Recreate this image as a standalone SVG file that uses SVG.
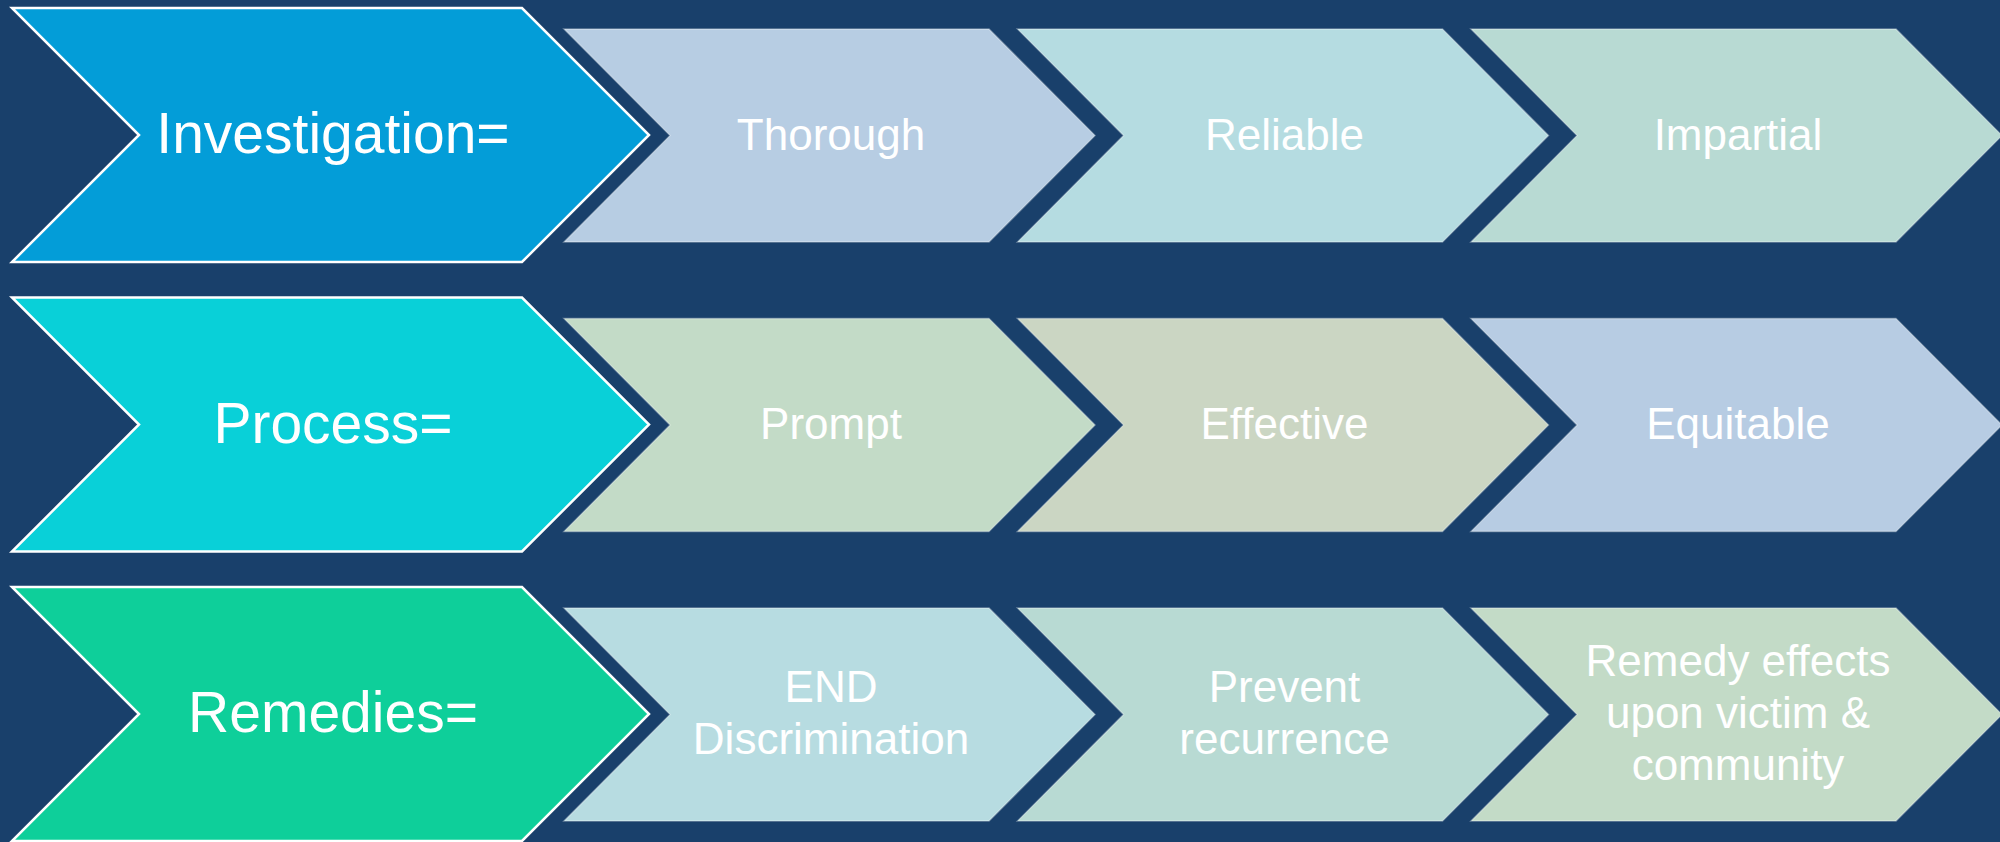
<svg xmlns="http://www.w3.org/2000/svg" width="2000" height="842" viewBox="0 0 2000 842">
  <defs>
    <!-- large chevron, centred vertically on y=0 -->
    <path id="bigChevron" d="M12,-127 L522,-127 L649,0 L522,127 L12,127 L139,0 Z"/>
    <!-- small chevron, left edge at x=0, centred vertically on y=0 -->
    <path id="smallChevron" d="M0,-106.5 L425,-106.5 L531,0 L425,106.5 L0,106.5 L106,0 Z"/>
  </defs>
  <style>
    .bg { fill: #19406b; }
    .big { stroke: #ffffff; stroke-width: 2.5; stroke-linejoin: miter; }
    .small { stroke: #ffffff; stroke-opacity: 0.35; stroke-width: 1.5; }
    .label { font-family: "Liberation Sans", Arial, sans-serif; fill: #ffffff; text-anchor: middle; }
    .bigLabel { font-size: 57px; }
    .smallLabel { font-size: 44px; }
  </style>

  <rect class="bg" x="0" y="0" width="2000" height="842"/>

  <!-- Row 1: Investigation -->
  <g id="investigation" transform="translate(0,135)">
    <use href="#bigChevron" class="big" fill="#039dd8"/>
    <text class="label bigLabel" x="333" y="18">Investigation=</text>
  </g>
  <g id="thorough" transform="translate(564,135.5)">
    <use href="#smallChevron" class="small" fill="#b7cde3"/>
    <text class="label smallLabel" x="267" y="14">Thorough</text>
  </g>
  <g id="reliable" transform="translate(1017.5,135.5)">
    <use href="#smallChevron" class="small" fill="#b5dce1"/>
    <text class="label smallLabel" x="267" y="14">Reliable</text>
  </g>
  <g id="impartial" transform="translate(1471,135.5)">
    <use href="#smallChevron" class="small" fill="#b8dad3"/>
    <text class="label smallLabel" x="267" y="14">Impartial</text>
  </g>

  <!-- Row 2: Process -->
  <g id="process" transform="translate(0,424.5)">
    <use href="#bigChevron" class="big" fill="#09d0d8"/>
    <text class="label bigLabel" x="333" y="18">Process=</text>
  </g>
  <g id="prompt" transform="translate(564,425)">
    <use href="#smallChevron" class="small" fill="#c3dbc7"/>
    <text class="label smallLabel" x="267" y="14">Prompt</text>
  </g>
  <g id="effective" transform="translate(1017.5,425)">
    <use href="#smallChevron" class="small" fill="#cbd6c3"/>
    <text class="label smallLabel" x="267" y="14">Effective</text>
  </g>
  <g id="equitable" transform="translate(1471,425)">
    <use href="#smallChevron" class="small" fill="#b7cce3"/>
    <text class="label smallLabel" x="267" y="14">Equitable</text>
  </g>

  <!-- Row 3: Remedies -->
  <g id="remedies" transform="translate(0,714)">
    <use href="#bigChevron" class="big" fill="#0ecf9a"/>
    <text class="label bigLabel" x="333" y="18">Remedies=</text>
  </g>
  <g id="end-discrimination" transform="translate(564,714.5)">
    <use href="#smallChevron" class="small" fill="#b7dce1"/>
    <text class="label smallLabel" x="267" y="-13">END</text>
    <text class="label smallLabel" x="267" y="39">Discrimination</text>
  </g>
  <g id="prevent-recurrence" transform="translate(1017.5,714.5)">
    <use href="#smallChevron" class="small" fill="#b8dad3"/>
    <text class="label smallLabel" x="267" y="-13">Prevent</text>
    <text class="label smallLabel" x="267" y="39">recurrence</text>
  </g>
  <g id="remedy-effects" transform="translate(1471,714.5)">
    <use href="#smallChevron" class="small" fill="#c3dbc7"/>
    <text class="label smallLabel" x="267" y="-38.5">Remedy effects</text>
    <text class="label smallLabel" x="267" y="13">upon victim &amp;</text>
    <text class="label smallLabel" x="267" y="65">community</text>
  </g>
</svg>
